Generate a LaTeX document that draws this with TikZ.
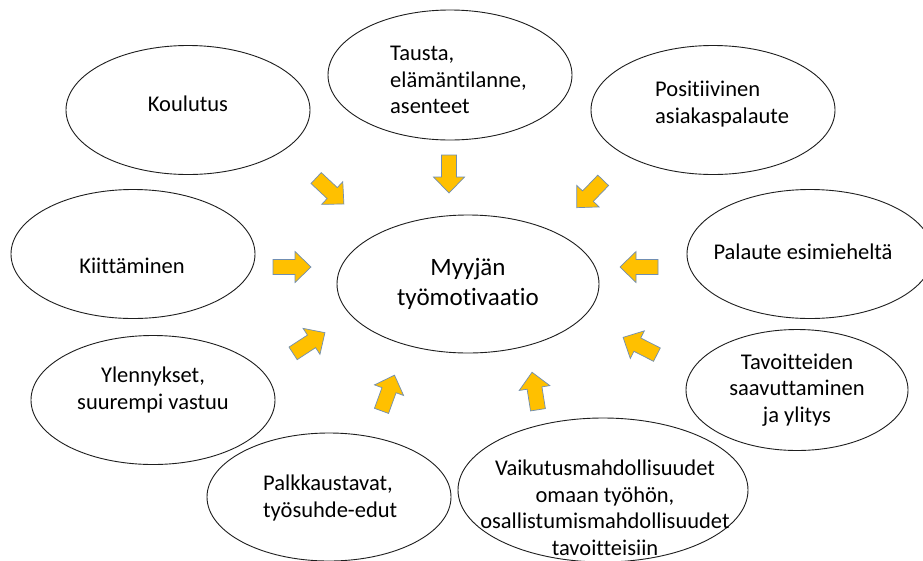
\documentclass[tikz,border=0pt]{standalone}
\usepackage{fontspec}
\setmainfont{Carlito}[Ligatures=NoCommon]
\usetikzlibrary{shapes.geometric}
\definecolor{gold}{RGB}{255,192,0}
\definecolor{arrowedge}{RGB}{112,142,178}
\definecolor{inkline}{RGB}{30,30,30}
\tikzset{
  bub/.style={ellipse, draw=inkline, line width=0.9pt, fill=white, inner sep=0pt},
  txt/.style={inner sep=0pt, font=\fontsize{22.5}{26.5}\selectfont, text=black},
  txtl/.style={txt, align=left},
  txtc/.style={txt, align=center},
  bigtxt/.style={inner sep=0pt, align=center, font=\fontsize{25}{30}\selectfont, text=black},
  barr/.pic={\draw[draw=arrowedge, line width=0.7pt, fill=gold, line join=miter]
    (-19,-7.5) -- (3,-7.5) -- (3,-15.5) -- (19,0) -- (3,15.5) -- (3,7.5) -- (-19,7.5) -- cycle;}
}
\begin{document}
\begin{tikzpicture}[x=1pt,y=-1pt]
\useasboundingbox (0,0) rectangle (923,560);
\fill[white] (0,0) rectangle (923,560);
% ellipses
\node[bub, minimum width=244pt, minimum height=129pt] (koul) at (188,110) {};
\node[bub, minimum width=244pt, minimum height=130pt] (taus) at (450,75) {};
\node[bub, minimum width=244pt, minimum height=129pt] (posi) at (713,110) {};
\node[bub, minimum width=244pt, minimum height=129pt] (kiit) at (133,254) {};
\node[bub, minimum width=262pt, minimum height=138pt] (myyj) at (468,284) {};
\node[bub, minimum width=246pt, minimum height=129pt] (pala) at (810,254) {};
\node[bub, minimum width=244pt, minimum height=129pt] (ylen) at (153,400) {};
\node[bub, minimum width=222pt, minimum height=121pt] (tavo) at (797,390) {};
\node[bub, minimum width=244pt, minimum height=128pt] (palk) at (329,497) {};
\node[bub, minimum width=290pt, minimum height=144pt] (vaik) at (603,490) {};
% texts
\node[txtc] (tkoul) at (188,104) {Koulutus};
\node[txtl, anchor=west] (ttaus) at (390,80) {Tausta,\\elämäntilanne,\\asenteet};
\node[txtl, anchor=west] (tposi) at (655,104) {Positiivinen\\asiakaspalaute};
\node[txtc] (tkiit) at (132,266) {Kiittäminen};
\node[bigtxt] (tmyyj) at (468,284) {Myyjän\\työmotivaatio};
\node[txtc] (tpala) at (803,252) {Palaute esimieheltä};
\node[txtc] (tylen) at (153,390) {Ylennykset,\\suurempi vastuu};
\node[txtc] (ttavo) at (797,390) {Tavoitteiden\\saavuttaminen\\ja ylitys};
\node[txtl, anchor=west] (tpalk) at (263,498) {Palkkaustavat,\\työsuhde-edut};
\node[txtc] (tvaik) at (605,508) {Vaikutusmahdollisuudet\\omaan työhön,\\osallistumismahdollisuudet\\tavoitteisiin};
% block arrows
\coordinate (a1) at (330,191);
\coordinate (a2) at (449,174);
\coordinate (a3) at (590,194);
\coordinate (a4) at (292,267);
\coordinate (a5) at (639,267);
\coordinate (a6) at (309,343);
\coordinate (a7) at (640,346);
\coordinate (a8) at (388,393);
\coordinate (a9) at (535,391);
\pic[rotate=-43] at (a1) {barr};
\pic[rotate=-90] at (a2) {barr};
\pic[rotate=-134] at (a3) {barr};
\pic[rotate=0] at (a4) {barr};
\pic[rotate=180] at (a5) {barr};
\pic[rotate=33] at (a6) {barr};
\pic[rotate=153] at (a7) {barr};
\pic[rotate=70] at (a8) {barr};
\pic[rotate=99] at (a9) {barr};
\end{tikzpicture}
\end{document}
